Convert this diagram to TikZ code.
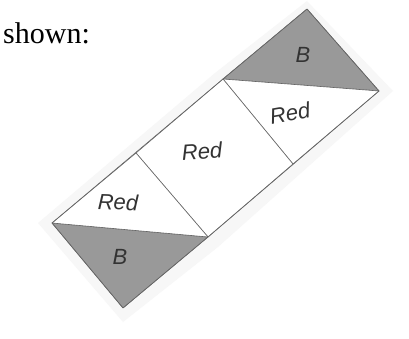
\documentclass[tikz,border=0pt]{standalone}
\usepackage{fontspec}
\setmainfont{Liberation Serif}
\newfontfamily\handfont{Liberation Sans}
\usetikzlibrary{calc}
\tikzset{
  edgeln/.style={line width=0.6pt, draw=black!60, line join=round},
  bfill/.style={fill=black!40},
  scanbg/.style={fill=black!3, draw=none},
  handlbl/.style={font=\handfont\itshape\fontsize{22}{22}\selectfont, text=black!80},
}
\definecolor{paper}{RGB}{255,255,255}

\begin{document}
\begin{tikzpicture}[x=1pt, y=-1pt]
    \useasboundingbox[fill=paper] (0,0) rectangle (409,339);
    % corners of the strip
    \coordinate (ta) at (307,9);
    \coordinate (tl) at (223,79);
    \coordinate (tr) at (379,91);
    \coordinate (mr) at (293,164);
    \coordinate (ml) at (136,153);
    \coordinate (br) at (208,237);
    \coordinate (bl) at (52,223);
    \coordinate (ba) at (123,308);
    % faint scan shadow
    \fill[scanbg] ($(ta)+(0,-8)$) -- ($(tr)+(14,0)$) -- ($(br)+(10,10)$)
      -- ($(ba)+(0,14)$) -- ($(bl)+(-14,0)$) -- ($(tl)+(-8,-6)$) -- cycle;
    % shaded triangles
    \filldraw[bfill, edgeln] (ta) -- (tr) -- (tl) -- cycle;
    \filldraw[bfill, edgeln] (bl) -- (br) -- (ba) -- cycle;
    % white parts
    \filldraw[fill=white, edgeln] (tl) -- (tr) -- (mr) -- cycle;
    \filldraw[fill=white, edgeln] (tl) -- (mr) -- (br) -- (ml) -- cycle;
    \filldraw[fill=white, edgeln] (ml) -- (br) -- (bl) -- cycle;
    % outline
    \draw[edgeln] (ta) -- (tr) -- (br) -- (ba) -- (bl) -- (tl) -- cycle;
    % labels
    \node[handlbl] (btop) at (303,55) {B};
    \node[handlbl, rotate=10] (redtop) at (290,113) {Red};
    \node[handlbl, rotate=4] (redmid) at (202,151) {Red};
    \node[handlbl, rotate=-2] (redlow) at (118,202) {Red};
    \node[handlbl] (bbot) at (120,257) {B};
    \node[anchor=base west, inner sep=0pt, font=\fontsize{30}{30}\selectfont] (shown) at (3,44) {shown:};
  \end{tikzpicture}
\end{document}
